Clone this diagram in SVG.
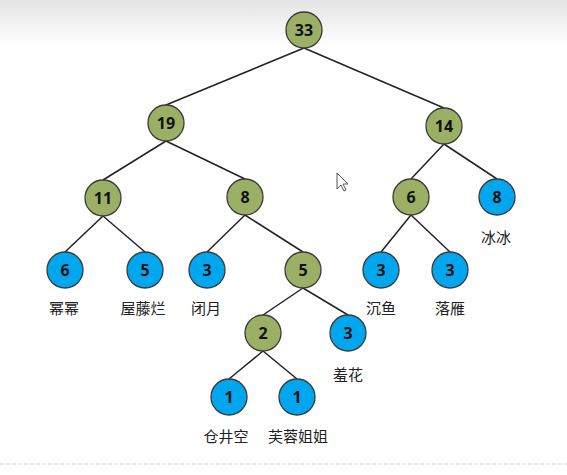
<svg xmlns="http://www.w3.org/2000/svg" width="567" height="475" viewBox="0 0 567 475">
<defs>
<linearGradient id="top" x1="0" y1="0" x2="0" y2="1">
<stop offset="0" stop-color="#e4e4e4"/>
<stop offset="1" stop-color="#ffffff"/>
</linearGradient>
</defs>
<style>
.g{fill:#9bb065;stroke:#3a3a3a;stroke-width:1.3}
.b{fill:#00a6ee;stroke:#3a3a3a;stroke-width:1.3}
.n{font-family:"Open Sans","Liberation Sans",sans-serif;font-weight:bold;font-size:16px;fill:#111;text-anchor:middle}
.l{font-family:"Noto Sans CJK SC","Liberation Sans",sans-serif;font-size:15px;fill:#222;text-anchor:middle}
#edges line{stroke:#222;stroke-width:1.5}
</style>
<rect width="567" height="475" fill="#fff"/>
<rect width="567" height="45" fill="url(#top)"/>
<line x1="0" y1="464" x2="567" y2="464" stroke="#e6e6e6" stroke-width="1.5" stroke-dasharray="4 2"/>
<g id="edges">
<line x1="304" y1="48" x2="166" y2="105"/>
<line x1="304" y1="48" x2="444" y2="108"/>
<line x1="166" y1="141" x2="103" y2="180"/>
<line x1="166" y1="141" x2="245" y2="179"/>
<line x1="444" y1="144" x2="411" y2="179"/>
<line x1="444" y1="144" x2="497" y2="179"/>
<line x1="103" y1="216" x2="65" y2="252"/>
<line x1="103" y1="216" x2="145" y2="252"/>
<line x1="245" y1="215" x2="207" y2="252"/>
<line x1="245" y1="215" x2="303" y2="252"/>
<line x1="411" y1="215" x2="381" y2="252"/>
<line x1="411" y1="215" x2="450" y2="252"/>
<line x1="303" y1="288" x2="263" y2="315"/>
<line x1="303" y1="288" x2="348" y2="315"/>
<line x1="263" y1="351" x2="229" y2="379"/>
<line x1="263" y1="351" x2="297" y2="379"/>
</g>
<g id="n33"><circle class="g" cx="304" cy="30" r="18"/><text class="n" x="304" y="36">33</text></g>
<g id="n19"><circle class="g" cx="166" cy="123" r="18"/><text class="n" x="166" y="129">19</text></g>
<g id="n14"><circle class="g" cx="444" cy="126" r="18"/><text class="n" x="444" y="132">14</text></g>
<g id="n11"><circle class="g" cx="103" cy="198" r="18"/><text class="n" x="103" y="204">11</text></g>
<g id="n8g"><circle class="g" cx="245" cy="197" r="18"/><text class="n" x="245" y="203">8</text></g>
<g id="n6g"><circle class="g" cx="411" cy="197" r="18"/><text class="n" x="411" y="203">6</text></g>
<g id="n8b"><circle class="b" cx="497" cy="197" r="18"/><text class="n" x="497" y="203">8</text><text class="l" x="496" y="243">冰冰</text></g>
<g id="n6b"><circle class="b" cx="65" cy="270" r="18"/><text class="n" x="65" y="276">6</text><text class="l" x="64" y="314">幂幂</text></g>
<g id="n5b"><circle class="b" cx="145" cy="270" r="18"/><text class="n" x="145" y="276">5</text><text class="l" x="143" y="314">屋藤烂</text></g>
<g id="n3a"><circle class="b" cx="207" cy="270" r="18"/><text class="n" x="207" y="276">3</text><text class="l" x="206" y="314">闭月</text></g>
<g id="n5g"><circle class="g" cx="303" cy="270" r="18"/><text class="n" x="303" y="276">5</text></g>
<g id="n3b"><circle class="b" cx="381" cy="270" r="18"/><text class="n" x="381" y="276">3</text><text class="l" x="381" y="314">沉鱼</text></g>
<g id="n3c"><circle class="b" cx="450" cy="270" r="18"/><text class="n" x="450" y="276">3</text><text class="l" x="450" y="314">落雁</text></g>
<g id="n2"><circle class="g" cx="263" cy="333" r="18"/><text class="n" x="263" y="339">2</text></g>
<g id="n3d"><circle class="b" cx="348" cy="333" r="18"/><text class="n" x="348" y="339">3</text><text class="l" x="348" y="380">羞花</text></g>
<g id="n1a"><circle class="b" cx="229" cy="397" r="18"/><text class="n" x="229" y="403">1</text><text class="l" x="226" y="442">仓井空</text></g>
<g id="n1b"><circle class="b" cx="297" cy="397" r="18"/><text class="n" x="297" y="403">1</text><text class="l" x="298" y="442">芙蓉姐姐</text></g>
<path d="M337,173 L337,189 L341,185 L344,191 L346,190 L343,184 L348,184 Z" fill="#fff" stroke="#555" stroke-width="1"/>
</svg>
